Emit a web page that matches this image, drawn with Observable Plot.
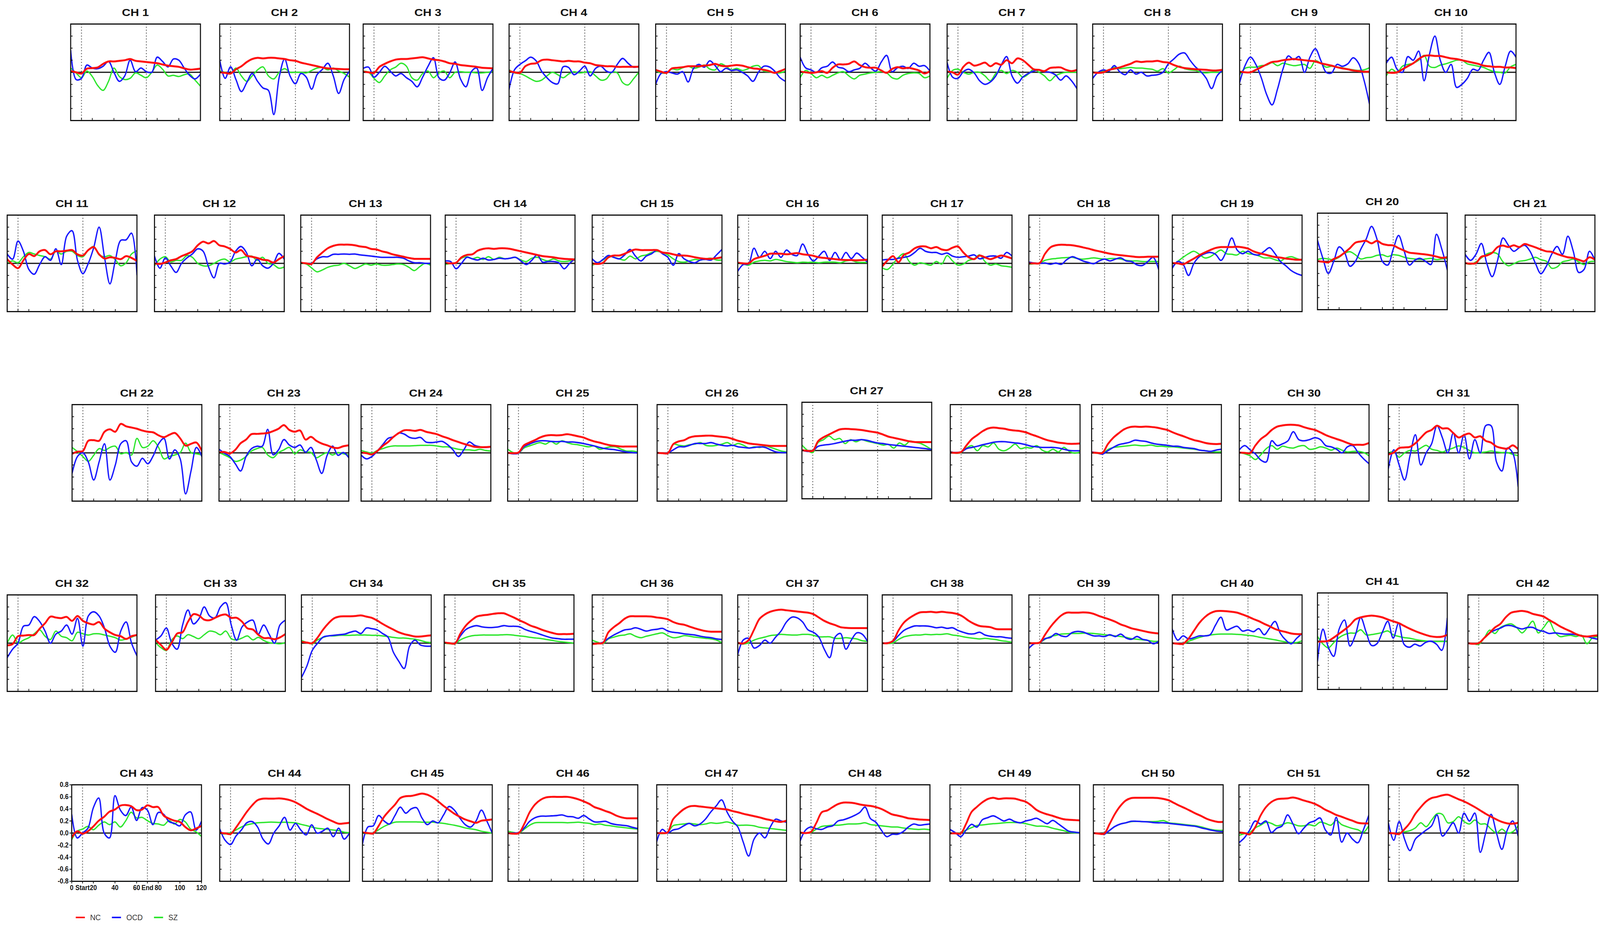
<!DOCTYPE html>
<html>
<head>
<meta charset="utf-8">
<script src="https://cdn.jsdelivr.net/npm/d3@7"></script>
<script src="https://cdn.jsdelivr.net/npm/@observablehq/plot@0.6"></script>
<style>
  html, body { margin: 0; padding: 0; background: #fff; overflow: hidden; }
  #outer { position: relative; overflow: hidden; background: #fff; }
  #chart { position: absolute; left: 0; top: 0; width: 4562px; height: 2375px; background: #fff; overflow: hidden;
           transform-origin: 0 0; font-family: "Liberation Sans", Arial, Helvetica, sans-serif; }
  .panel { position: absolute; }
  .panel svg { display: block; overflow: visible; }
  .title { position: absolute; text-align: center; font-weight: bold; font-size: 26px; line-height: 30px;
           color: #111; transform: scaleX(1.3); transform-origin: center; white-space: nowrap; }
  .legend { position: absolute; display: flex; align-items: center; font-size: 21px; color: #333; }
  .legend .sw { display: inline-block; width: 26px; height: 4px; margin-right: 15px; }
  .legend .lab { margin-right: 32px; }
</style>
</head>
<body>
<div id="outer"><div id="chart"></div></div>
<script>
// ---------------- data ----------------
const timePoints = [0,5,10,15,20,25,30,35,40,45,50,55,60,65,70,75,80,85,90,95,100,105,110,115,120];
const channelNames = ["CH 1","CH 2","CH 3","CH 4","CH 5","CH 6","CH 7","CH 8","CH 9","CH 10",
  "CH 11","CH 12","CH 13","CH 14","CH 15","CH 16","CH 17","CH 18","CH 19","CH 20","CH 21",
  "CH 22","CH 23","CH 24","CH 25","CH 26","CH 27","CH 28","CH 29","CH 30","CH 31",
  "CH 32","CH 33","CH 34","CH 35","CH 36","CH 37","CH 38","CH 39","CH 40","CH 41","CH 42",
  "CH 43","CH 44","CH 45","CH 46","CH 47","CH 48","CH 49","CH 50","CH 51","CH 52"];
const seriesNames = ["NC", "OCD", "SZ"];
const xTicks = [0,10,20,40,60,70,80,100,120];
const xTickLabels = ["0","Start","20","40","60","End","80","100","120"];
const yTicks = [-0.8,-0.6,-0.4,-0.2,0,0.2,0.4,0.6,0.8];
const markerTimes = [10, 70];

const ncValues = [
[0.02,0,-0.02,0.06,0.07,0.08,0.14,0.18,0.18,0.19,0.2,0.22,0.19,0.18,0.17,0.16,0.15,0.13,0.11,0.1,0.09,0.065,0.045,0.05,0.06],
[0,-0.01,-0.02,0.05,0.1,0.17,0.22,0.24,0.23,0.24,0.24,0.23,0.22,0.2,0.19,0.16,0.14,0.12,0.1,0.08,0.065,0.06,0.055,0.05,0.05],
[0.01,0,-0.01,0.09,0.14,0.18,0.21,0.22,0.22,0.23,0.24,0.25,0.23,0.21,0.2,0.18,0.15,0.14,0.12,0.11,0.1,0.09,0.075,0.07,0.065],
[0.02,0,-0.01,0.1,0.14,0.15,0.2,0.21,0.2,0.19,0.18,0.19,0.18,0.18,0.16,0.15,0.12,0.11,0.1,0.1,0.09,0.09,0.09,0.09,0.09],
[0.04,0.01,-0.01,0.065,0.075,0.085,0.1,0.1,0.1,0.11,0.12,0.14,0.11,0.1,0.11,0.12,0.11,0.085,0.065,0.055,0.04,0.02,-0.01,0.02,0.055],
[0.01,0,-0.01,0,0.02,-0.01,0.075,0.13,0.13,0.14,0.18,0.12,0.085,0.075,0.075,0.03,-0.01,0.055,0.085,0.065,0.075,0.055,0.03,-0.02,0.02],
[0.01,0,-0.04,0.09,0.16,0.11,0.13,0.16,0.1,0.15,0.125,0.2,0.15,0.23,0.2,0.125,0.05,0.04,0.02,0.07,0.08,0.08,0.04,0.02,0.04],
[0,-0.01,0,0.04,0.06,0.08,0.11,0.14,0.18,0.17,0.18,0.18,0.19,0.17,0.16,0.12,0.09,0.07,0.06,0.05,0.045,0.04,0.03,0.03,0.04],
[0.01,0,0,0.04,0.085,0.13,0.17,0.18,0.2,0.21,0.22,0.21,0.2,0.19,0.18,0.15,0.13,0.11,0.085,0.065,0.05,0.03,0.02,0.01,0.01],
[0,-0.01,0,0.05,0.1,0.15,0.22,0.27,0.28,0.27,0.27,0.25,0.23,0.22,0.2,0.18,0.16,0.14,0.11,0.1,0.09,0.09,0.08,0.08,0.07],
[0.07,-0.02,-0.08,0.05,0.155,0.12,0.2,0.22,0.15,0.2,0.2,0.21,0.22,0.15,0.13,0.22,0.27,0.15,0.08,0.1,0.09,0.07,0.12,0.09,0.04],
[0,-0.01,0.015,0.05,0.07,0.12,0.155,0.2,0.3,0.36,0.33,0.37,0.3,0.28,0.24,0.18,0.22,0.13,0.11,0.09,0.06,0.05,0.015,0.07,0.12],
[0.01,0,-0.01,0.1,0.18,0.25,0.29,0.31,0.31,0.31,0.3,0.28,0.27,0.24,0.23,0.2,0.18,0.15,0.13,0.11,0.09,0.075,0.075,0.075,0.075],
[0.01,0,0.01,0.1,0.14,0.15,0.21,0.24,0.25,0.24,0.25,0.25,0.24,0.22,0.2,0.18,0.16,0.14,0.12,0.11,0.1,0.085,0.075,0.07,0.065],
[0,-0.01,0.01,0.1,0.13,0.13,0.16,0.2,0.23,0.22,0.22,0.22,0.22,0.18,0.17,0.15,0.13,0.13,0.12,0.1,0.085,0.075,0.075,0.085,0.1],
[0.01,0,0,0.07,0.1,0.125,0.16,0.16,0.16,0.15,0.16,0.17,0.15,0.14,0.125,0.1,0.09,0.08,0.07,0.06,0.055,0.055,0.05,0.055,0.06],
[-0.05,0.05,0.12,0.02,0.14,0.18,0.25,0.28,0.28,0.25,0.27,0.23,0.22,0.26,0.28,0.18,0.1,0.07,0.13,0.1,0.07,0.1,0.13,0.11,0.08],
[0,0,0.005,0.16,0.265,0.3,0.31,0.305,0.3,0.285,0.265,0.245,0.22,0.2,0.18,0.16,0.145,0.135,0.125,0.115,0.105,0.105,0.11,0.11,0.11],
[0.005,0,-0.015,0.03,0.08,0.135,0.18,0.22,0.255,0.27,0.27,0.27,0.275,0.265,0.245,0.2,0.17,0.15,0.125,0.105,0.095,0.08,0.07,0.06,0.06],
[0.005,-0.005,-0.015,0.04,0.08,0.145,0.22,0.31,0.33,0.34,0.3,0.34,0.29,0.27,0.265,0.22,0.18,0.145,0.135,0.125,0.115,0.1,0.08,0.06,0.07],
[0.005,-0.005,0.005,0.11,0.13,0.175,0.27,0.295,0.27,0.3,0.27,0.32,0.295,0.265,0.23,0.2,0.19,0.155,0.125,0.1,0.09,0.06,0.035,0.1,0.06],
[-0.015,0.02,0.03,0.2,0.21,0.2,0.35,0.39,0.35,0.48,0.44,0.42,0.4,0.37,0.35,0.34,0.29,0.26,0.3,0.33,0.24,0.12,0.15,0.17,0.03],
[0.005,0.015,-0.01,0.05,0.16,0.22,0.31,0.315,0.32,0.33,0.36,0.4,0.46,0.38,0.35,0.37,0.22,0.265,0.2,0.155,0.125,0.09,0.08,0.11,0.125],
[0.005,-0.005,-0.025,0.03,0.115,0.18,0.265,0.33,0.375,0.375,0.365,0.38,0.35,0.33,0.31,0.275,0.245,0.21,0.18,0.15,0.125,0.1,0.095,0.095,0.1],
[0,-0.005,0.005,0.125,0.17,0.21,0.255,0.285,0.295,0.29,0.295,0.31,0.295,0.275,0.255,0.22,0.19,0.17,0.145,0.125,0.115,0.105,0.105,0.105,0.105],
[0,-0.005,-0.005,0.145,0.19,0.21,0.255,0.275,0.28,0.285,0.285,0.275,0.265,0.255,0.23,0.2,0.18,0.155,0.145,0.135,0.125,0.115,0.115,0.115,0.115],
[0.005,-0.005,-0.005,0.155,0.22,0.265,0.31,0.35,0.36,0.355,0.35,0.34,0.325,0.31,0.295,0.265,0.23,0.21,0.19,0.17,0.15,0.14,0.14,0.14,0.14],
[0.005,0,0.015,0.125,0.23,0.295,0.36,0.405,0.42,0.41,0.4,0.38,0.37,0.36,0.34,0.305,0.275,0.24,0.21,0.19,0.17,0.16,0.15,0.15,0.155],
[0.005,0,0,0.145,0.25,0.325,0.39,0.425,0.435,0.43,0.435,0.43,0.42,0.4,0.38,0.34,0.305,0.275,0.24,0.21,0.19,0.165,0.15,0.145,0.15],
[0.005,0,-0.005,0.125,0.23,0.295,0.38,0.435,0.455,0.465,0.465,0.455,0.425,0.4,0.38,0.34,0.295,0.26,0.23,0.2,0.165,0.135,0.135,0.135,0.165],
[-0.025,0.005,0.08,0.09,0.1,0.16,0.25,0.34,0.38,0.45,0.405,0.405,0.33,0.255,0.295,0.32,0.255,0.275,0.2,0.17,0.105,0.08,0.07,0.125,0.06],
[-0.035,-0.015,0.115,0.125,0.135,0.135,0.24,0.33,0.44,0.425,0.415,0.435,0.37,0.45,0.37,0.33,0.31,0.35,0.24,0.18,0.135,0.115,0.07,0.115,0.135],
[0.055,-0.03,-0.11,0.01,0.16,0.18,0.355,0.48,0.46,0.39,0.38,0.42,0.46,0.475,0.42,0.42,0.355,0.245,0.225,0.14,0.085,0.085,0.065,0.095,0.15],
[0.02,0.01,0,0.095,0.225,0.33,0.41,0.44,0.445,0.445,0.45,0.46,0.44,0.42,0.375,0.32,0.27,0.225,0.18,0.15,0.13,0.11,0.11,0.12,0.13],
[0.01,0,-0.005,0.16,0.29,0.375,0.44,0.46,0.47,0.485,0.495,0.495,0.46,0.42,0.375,0.335,0.29,0.26,0.225,0.195,0.17,0.15,0.15,0.15,0.155],
[-0.015,-0.005,0.005,0.18,0.265,0.33,0.405,0.445,0.445,0.445,0.445,0.44,0.425,0.415,0.395,0.35,0.32,0.305,0.275,0.245,0.22,0.2,0.19,0.19,0.19],
[0.005,-0.005,0.05,0.22,0.4,0.475,0.52,0.545,0.555,0.545,0.535,0.525,0.515,0.505,0.48,0.425,0.37,0.33,0.3,0.265,0.255,0.25,0.25,0.25,0.25],
[0,0,0.04,0.21,0.34,0.415,0.47,0.51,0.515,0.52,0.51,0.52,0.51,0.5,0.48,0.435,0.37,0.32,0.285,0.275,0.265,0.235,0.23,0.23,0.23],
[0,0,0.01,0.14,0.27,0.375,0.46,0.505,0.505,0.505,0.51,0.505,0.485,0.45,0.42,0.39,0.355,0.31,0.28,0.245,0.225,0.205,0.185,0.17,0.16],
[0,-0.01,-0.01,0.075,0.205,0.335,0.43,0.495,0.53,0.535,0.53,0.52,0.505,0.475,0.44,0.4,0.365,0.32,0.28,0.235,0.205,0.185,0.16,0.15,0.15],
[-0.005,-0.005,0.005,0.06,0.125,0.19,0.265,0.36,0.395,0.415,0.425,0.415,0.395,0.36,0.33,0.3,0.255,0.21,0.17,0.135,0.105,0.08,0.07,0.075,0.105],
[0,-0.01,0,0.085,0.17,0.26,0.32,0.43,0.505,0.525,0.535,0.52,0.485,0.465,0.44,0.385,0.335,0.28,0.235,0.195,0.15,0.12,0.11,0.12,0.13],
[-0.075,0.03,-0.01,0.03,0.11,0.205,0.27,0.355,0.39,0.455,0.465,0.445,0.38,0.39,0.46,0.43,0.43,0.29,0.24,0.205,0.185,0.1,0.045,0.075,0.12],
[0.005,-0.005,-0.015,0.09,0.22,0.35,0.46,0.545,0.57,0.57,0.57,0.575,0.565,0.545,0.51,0.46,0.405,0.36,0.32,0.275,0.23,0.19,0.155,0.16,0.17],
[0.01,0,-0.005,0.12,0.27,0.375,0.47,0.58,0.61,0.615,0.635,0.655,0.635,0.59,0.525,0.45,0.385,0.32,0.27,0.225,0.195,0.17,0.205,0.215,0.225],
[0,-0.01,0,0.15,0.345,0.475,0.55,0.59,0.6,0.6,0.6,0.6,0.585,0.56,0.525,0.485,0.43,0.4,0.365,0.335,0.29,0.26,0.245,0.245,0.245],
[0,0,0.01,0.225,0.32,0.395,0.44,0.45,0.44,0.43,0.42,0.41,0.4,0.39,0.365,0.345,0.32,0.3,0.28,0.26,0.235,0.215,0.195,0.185,0.205],
[0.01,0,0.02,0.17,0.345,0.375,0.43,0.48,0.505,0.505,0.495,0.475,0.46,0.45,0.43,0.4,0.355,0.31,0.29,0.27,0.245,0.235,0.225,0.22,0.215],
[-0.005,-0.005,-0.005,0.155,0.35,0.435,0.51,0.565,0.585,0.565,0.575,0.575,0.57,0.545,0.52,0.46,0.385,0.34,0.31,0.285,0.255,0.23,0.22,0.215,0.21],
[0,-0.01,-0.01,0.15,0.32,0.45,0.54,0.58,0.585,0.585,0.585,0.585,0.58,0.565,0.54,0.495,0.45,0.41,0.365,0.32,0.28,0.235,0.205,0.185,0.185],
[0.01,0,-0.02,0.095,0.29,0.43,0.515,0.56,0.57,0.575,0.59,0.57,0.54,0.515,0.485,0.44,0.385,0.345,0.3,0.27,0.235,0.205,0.17,0.16,0.16],
[0,-0.005,-0.015,0.065,0.17,0.32,0.43,0.525,0.58,0.6,0.625,0.635,0.6,0.56,0.525,0.48,0.43,0.375,0.32,0.27,0.225,0.185,0.16,0.155,0.17]
];

const ocdValues = [
[0.36,-0.12,-0.1,0.12,0.07,0.06,0.1,0.18,0.0,-0.15,-0.06,0.2,0.01,0.07,0.01,0.0,0.25,0.18,0.09,0.22,0.2,0.07,-0.05,-0.11,-0.03],
[0.2,-0.1,0.09,-0.12,-0.32,-0.17,-0.02,-0.15,-0.26,-0.3,-0.7,-0.08,0.22,-0.06,-0.19,-0.02,-0.08,-0.28,-0.04,0.05,0.15,-0.06,-0.35,-0.12,0.02],
[0.065,0.085,-0.08,0.0,0.1,0.02,-0.06,-0.02,-0.09,-0.15,-0.24,-0.08,0.1,0.24,-0.09,-0.13,-0.01,0.17,-0.11,-0.24,0.01,0.07,-0.3,-0.09,0.065],
[-0.28,0.04,0.13,0.19,0.25,0.19,0.02,-0.09,-0.17,-0.19,0.09,0.08,-0.04,0.02,0.1,-0.06,0.065,0.1,0.02,0,0.13,0.23,0.15,0.085,0.1],
[-0.2,-0.02,0.01,-0.01,-0.03,0.01,-0.16,0.065,0.13,0.085,0.19,0.11,0.01,0.065,0.03,0.04,0.0,-0.06,-0.15,0.0,0.1,0.09,0.02,-0.09,-0.15],
[0.25,0.075,0.04,0,0.075,0.1,0.17,0.085,0.065,0.01,0.04,0.065,0.15,0.075,0.02,0.17,0.28,0.01,0.075,0.1,0.065,0.15,0.1,0.11,0.02],
[0.16,-0.08,-0.1,0.01,0.05,-0.01,-0.14,-0.2,-0.16,-0.06,0.12,0.26,-0.06,-0.18,-0.08,-0.02,0.02,0.04,0.01,0,-0.04,-0.13,-0.06,-0.14,-0.27],
[-0.1,0,0.04,0.02,0.11,0.01,-0.04,0.04,-0.03,0,-0.06,-0.05,-0.04,0,0.14,0.22,0.3,0.32,0.2,0.09,0.01,-0.1,-0.27,-0.06,0.03],
[-0.17,0.11,0.25,0.13,-0.09,-0.37,-0.54,-0.28,0.05,0.27,0.21,0.26,0.0,0.25,0.39,0.2,0.0,-0.01,0.13,0.1,0.14,0.24,0.15,-0.13,-0.52],
[0.15,0.25,0.05,0.0,0.26,0.2,0.35,-0.14,0.3,0.6,0.2,0.0,0.13,-0.25,-0.2,-0.1,0.05,0.03,0.2,0.33,0.0,-0.2,0.1,0.35,0.25],
[0.155,0.07,0.37,0.2,-0.1,-0.18,-0.02,0.11,0.05,0.24,-0.02,0.45,0.54,0.05,-0.17,0.0,0.26,0.6,0.1,-0.34,0.05,0.38,0.39,0.5,-0.19],
[0.12,-0.08,0.09,-0.04,-0.15,0.0,0.09,0.155,0.24,0.2,-0.06,-0.24,0.0,-0.01,0.025,0.2,0.28,0.18,-0.04,0.07,-0.04,-0.08,0.0,0.165,0.07],
[0.01,0,0,0.075,0.11,0.11,0.15,0.15,0.155,0.15,0.155,0.14,0.13,0.12,0.11,0.1,0.1,0.1,0.1,0.085,0.04,0.01,0.01,0,0],
[0.04,0.03,-0.09,0.0,0.1,0.075,0.055,0.085,0.055,0.065,0.085,0.075,0.085,0.1,0.04,-0.02,0.05,0.14,0.02,0.03,0.03,0.01,-0.09,0,0.075],
[0.075,0.01,0.065,0.13,0.1,0.075,0.14,0.23,0.12,0.04,0.12,0.16,0.22,0.16,0.1,-0.03,0.16,0.075,0.03,0.01,0.055,0.065,0.055,0.14,0.23],
[-0.13,-0.02,-0.01,0.25,0.1,0.2,0.08,0.2,0.1,0.22,0.15,0.13,0.32,0.15,0.04,0.12,0.2,0.05,0.18,0.06,0.18,0.08,0.17,0.1,0.02],
[0.055,0.065,0.065,0.085,0.1,0.12,0.18,0.25,0.2,0.18,0.18,0.15,0.17,0.12,0.1,0.11,0.12,0.14,0.075,0.1,0.12,0.12,0.085,0.18,0.12],
[0.02,0.005,0,0.005,-0.015,0.005,-0.015,0.06,0.11,0.08,0.04,0.015,-0.005,0.04,0.07,0.04,0.07,0.09,0.04,0.03,-0.025,-0.035,0.03,0.1,-0.1],
[-0.08,0.03,-0.015,-0.2,0.0,0.11,0.16,0.18,0.15,0.05,0.2,0.42,0.22,0.16,0.2,0.15,0.14,0.2,0.26,0.16,0.03,-0.04,-0.12,-0.17,-0.2],
[0.35,0.05,-0.2,0.0,0.24,0.15,-0.08,0.0,0.2,0.37,0.58,0.37,0.0,-0.06,0.2,0.43,0.18,-0.06,0.02,0.05,0.0,-0.05,0.45,0.2,-0.14],
[0.15,0.05,0.15,0.33,0.0,-0.22,0.05,0.42,0.3,0.2,0.26,0.3,0.2,0.0,-0.17,-0.05,0.15,0.28,0.15,0.45,0.2,-0.15,-0.1,0.2,0.05],
[-0.34,-0.06,0.0,-0.15,-0.45,-0.15,0.15,-0.45,-0.2,0.15,0.2,-0.15,-0.22,-0.09,-0.18,-0.05,0.15,0.24,-0.1,0.05,-0.1,-0.68,-0.3,0.09,-0.06],
[0.06,-0.005,-0.06,-0.18,-0.3,-0.06,0.07,0.11,0.11,0.39,-0.03,0.05,0.22,0.13,0.09,0.13,0.01,0.09,-0.12,-0.34,-0.04,0.11,-0.04,0.005,-0.08],
[-0.035,-0.1,-0.06,0.03,0.135,0.24,0.265,0.33,0.31,0.255,0.24,0.255,0.18,0.17,0.18,0.19,0.135,0.05,-0.06,0.05,0.18,0.125,0.1,0.09,0.1],
[0,-0.015,-0.005,0.1,0.145,0.18,0.2,0.2,0.19,0.185,0.19,0.18,0.18,0.17,0.155,0.135,0.115,0.09,0.07,0.06,0.05,0.03,0.015,0.005,0],
[0,-0.005,0,0.05,0.1,0.1,0.125,0.155,0.155,0.155,0.17,0.145,0.125,0.115,0.125,0.1,0.09,0.08,0.09,0.1,0.09,0.05,0.015,0.005,0.005],
[0.005,-0.015,-0.005,0.07,0.09,0.1,0.115,0.135,0.155,0.17,0.17,0.18,0.17,0.145,0.125,0.115,0.1,0.09,0.08,0.07,0.06,0.05,0.04,0.03,0.015],
[0.015,0.005,0.015,0.07,0.09,0.11,0.135,0.155,0.175,0.185,0.185,0.175,0.165,0.155,0.135,0.11,0.1,0.09,0.09,0.09,0.08,0.06,0.04,0.035,0.035],
[0.015,0,-0.02,0.035,0.09,0.135,0.155,0.175,0.21,0.2,0.19,0.165,0.145,0.135,0.125,0.11,0.11,0.09,0.08,0.07,0.045,0.035,0.025,0.045,0.06],
[0.05,0.12,0.05,-0.02,-0.12,-0.15,0.2,0.12,0.15,0.2,0.35,0.22,0.2,0.22,0.25,0.22,0.12,0.1,0.06,0.0,0.1,0.12,0.0,-0.1,-0.18],
[-0.26,0.05,-0.2,-0.45,-0.05,0.3,-0.2,0.0,0.15,0.45,0.25,0.0,0.33,0.0,0.3,-0.1,0.22,0.0,0.45,0.45,-0.15,-0.3,0.08,0.0,-0.56],
[-0.24,-0.1,0.0,0.28,0.3,0.44,0.36,0.2,0.0,0.15,0.2,0.3,0.15,0.41,-0.05,0.45,0.52,0.45,0.25,-0.05,-0.15,0.2,0.35,0.0,-0.21],
[0.05,0.12,0.25,0.0,-0.1,0.3,0.55,0.32,0.4,0.6,0.45,0.42,0.6,0.67,0.3,0.05,0.27,0.35,0.38,0.15,0.3,0.15,0.0,0.3,0.38],
[-0.57,-0.38,-0.12,0.0,0.1,0.12,0.13,0.14,0.15,0.18,0.2,0.16,0.25,0.24,0.22,0.16,0.1,-0.15,-0.3,-0.42,-0.05,0.05,-0.03,-0.05,-0.05],
[0.01,0,-0.005,0.12,0.225,0.27,0.29,0.27,0.26,0.26,0.27,0.29,0.28,0.28,0.27,0.225,0.195,0.17,0.14,0.11,0.085,0.075,0.065,0.065,0.065],
[-0.015,-0.005,0.015,0.08,0.135,0.18,0.22,0.23,0.255,0.23,0.2,0.22,0.23,0.245,0.2,0.18,0.17,0.155,0.145,0.135,0.115,0.1,0.09,0.07,0.06],
[-0.19,0.05,0.08,-0.08,-0.04,0.05,0.0,0.1,0.2,0.35,0.43,0.42,0.35,0.22,0.18,0.1,-0.1,-0.24,0.1,0.16,-0.1,0.05,0.17,0.15,0.03],
[0,0.005,0.03,0.125,0.21,0.255,0.285,0.285,0.285,0.275,0.255,0.265,0.245,0.255,0.21,0.18,0.155,0.155,0.18,0.135,0.115,0.105,0.105,0.09,0.08],
[-0.085,-0.01,0.01,0.075,0.095,0.16,0.12,0.11,0.175,0.195,0.185,0.15,0.12,0.12,0.11,0.14,0.11,0.15,0.085,0.065,0.11,0.065,0.045,-0.01,0.03],
[0.23,0.05,0.12,0.07,0.09,0.12,0.12,0.14,0.3,0.43,0.22,0.25,0.28,0.2,0.22,0.19,0.24,0.14,0.25,0.36,0.16,0.05,-0.01,0.08,0.16],
[-0.33,0.2,-0.1,-0.25,0.2,0.35,-0.08,0.1,0.39,0.15,-0.07,-0.04,0.15,0.33,0.05,0.3,-0.05,-0.1,-0.05,-0.08,-0.02,0.0,-0.05,-0.15,0.38],
[0,-0.01,0,0.085,0.17,0.215,0.25,0.29,0.29,0.26,0.235,0.26,0.26,0.215,0.195,0.16,0.17,0.16,0.15,0.15,0.14,0.12,0.11,0.085,0.065],
[0.31,-0.08,0.0,0.08,0.42,0.58,0.0,-0.08,0.62,0.38,0.29,0.43,0.21,0.42,0.38,0.14,0.34,0.31,0.19,0.16,0.12,0.3,0.35,0.05,0.195],
[0.07,-0.12,-0.19,-0.05,0.05,0.17,0.19,0.1,-0.1,-0.18,0.0,0.12,0.26,0.05,0.16,0.05,-0.03,0.135,0.0,0.03,0.08,-0.06,0.08,-0.1,0.0],
[-0.18,0.1,0.12,0.29,0.2,0.15,0.29,0.43,0.33,0.4,0.42,0.25,0.14,0.2,0.17,0.3,0.44,0.38,0.25,0.14,0.1,0.2,0.38,0.2,0.0],
[0,0,0.01,0.085,0.195,0.255,0.28,0.28,0.285,0.29,0.3,0.275,0.27,0.245,0.29,0.235,0.185,0.185,0.195,0.16,0.14,0.13,0.12,0.095,0.075],
[-0.14,0.06,0.0,0.05,0.07,0.12,0.16,0.12,0.15,0.23,0.35,0.45,0.55,0.35,0.2,0.1,-0.15,-0.38,-0.1,0.0,-0.08,0.1,0.23,0.2,0.18],
[-0.13,0.05,0.1,0.07,0.06,0.1,0.12,0.2,0.22,0.25,0.29,0.34,0.43,0.24,0.18,0.05,-0.06,-0.02,-0.02,0.02,0.1,0.15,0.13,0.14,0.15],
[0.06,0.005,-0.06,0.05,0.145,0.1,0.22,0.255,0.285,0.245,0.2,0.23,0.19,0.17,0.2,0.22,0.245,0.2,0.155,0.21,0.155,0.09,0.03,0.015,0.005],
[0,-0.01,-0.02,0.045,0.11,0.15,0.17,0.195,0.195,0.19,0.185,0.175,0.17,0.17,0.16,0.15,0.14,0.13,0.12,0.11,0.085,0.065,0.045,0.03,0.025],
[-0.16,-0.08,0.05,0.2,0.15,0.2,0.01,0.08,0.12,0.3,0.15,-0.01,0.08,0.17,0.2,0.25,0.05,-0.03,0.26,-0.15,0.0,-0.1,-0.16,0.05,0.29],
[0.17,-0.12,0.19,-0.1,-0.29,-0.1,-0.02,0.05,0.12,0.3,-0.05,0.05,0.17,0.0,0.33,0.2,0.33,-0.32,0.0,0.31,0.0,-0.27,0.05,0.2,-0.05]
];

const szValues = [
[0.07,-0.01,-0.09,0.02,-0.07,-0.22,-0.3,-0.15,0.07,-0.07,-0.12,-0.1,-0.01,-0.05,-0.09,0.0,0.12,0.05,-0.06,-0.05,-0.07,-0.04,-0.03,-0.13,-0.23],
[0.02,0,-0.02,0.07,-0.06,-0.15,-0.06,0.04,0.09,-0.06,-0.11,0,0.06,0,0,0,-0.01,0.03,0.07,0.08,0.04,0.07,0.02,-0.02,-0.08],
[0.02,0,-0.1,-0.17,-0.06,0.04,0.085,0.15,0.1,-0.09,-0.13,-0.02,0.02,-0.09,-0.01,0.02,-0.09,0,0.01,0,0,-0.01,-0.01,0,0.01],
[0.04,-0.01,-0.02,-0.06,-0.11,-0.15,-0.13,-0.06,0,-0.04,-0.09,-0.03,0.01,-0.01,0,0.01,-0.06,-0.13,-0.11,0,-0.01,-0.17,-0.21,-0.11,0],
[0.03,-0.01,-0.01,0.055,0.04,0.075,0.1,0.065,0.085,0.12,0.055,0.04,0.14,0.1,0.04,0.065,0.03,0.055,0.1,0.11,0.02,0.01,-0.01,-0.01,0.02],
[-0.09,0.03,-0.02,-0.09,-0.05,-0.09,-0.05,-0.01,0.01,-0.06,-0.11,-0.05,-0.03,-0.01,0,0.01,-0.01,-0.09,-0.11,-0.05,-0.02,-0.01,-0.02,-0.09,-0.06],
[-0.1,0.03,0.05,0,-0.03,0,0,-0.06,-0.14,-0.02,0.03,-0.02,0.03,0,-0.08,-0.03,0.05,0,-0.06,-0.14,-0.06,-0.02,0,0,0],
[0,0,0.02,0.04,0.08,0.06,0.07,0.08,0.07,0.07,0.06,0.05,0.02,0.06,-0.01,0.04,0.1,0.06,0.04,0.03,0,-0.01,0,0,0],
[-0.04,0.065,0.085,0.085,0.11,0.12,0.16,0.11,0.15,0.13,0.11,0.12,0.13,0.065,0.19,0.15,0.085,0.1,0.085,0.075,0.055,0.04,0.03,0.04,0.075],
[-0.06,0.05,0,0.1,0.13,0.15,0.2,0.28,0.1,0.08,0.12,0.14,0.17,0.2,0.2,0.14,0.12,0.1,0.08,0.04,0.01,0,-0.01,0.09,0.13],
[0,0.04,0.01,0.11,0.18,0.155,0.13,0.11,0.07,0.2,0.155,0.2,0.2,0.13,0.11,0.22,0.28,0.14,0.11,0.13,0.06,-0.04,0.01,0.155,0.21],
[-0.04,0.07,0.11,0.025,0.05,0.05,0.13,0.1,0.0,-0.04,-0.04,0.0,0.05,0.07,0.025,0.07,0.09,0.11,0.12,0.05,0.1,0.0,-0.02,-0.08,-0.06],
[0,-0.01,-0.075,-0.14,-0.11,-0.065,-0.04,-0.03,0,-0.04,-0.085,-0.05,-0.01,-0.03,-0.01,-0.03,-0.03,-0.02,-0.01,-0.02,-0.065,-0.12,-0.055,0,-0.03],
[-0.02,0,0.01,0.085,0.11,0.075,0.1,0.065,0.11,0.065,0.1,0.075,0.085,0.1,0.055,0.03,0.085,0.1,0.065,0.04,0.075,0.04,0.03,0.04,0.055],
[-0.03,0.01,0.055,0.12,0.1,0.075,0.055,0.12,0.075,0.12,0.14,0.18,0.2,0.18,0.14,0.075,0.03,0.02,0.04,0.065,0.055,0.075,0.085,0.055,0.055],
[0,-0.01,-0.03,0.02,0.04,0.05,0.04,0.065,0.05,0.03,0.02,0.01,0.02,0.015,0.02,0.01,0.02,0.02,0.02,0.01,0.04,0.05,0.02,0.015,0.015],
[-0.075,-0.1,-0.01,0.1,0.16,0.03,-0.03,0.01,-0.01,-0.03,0.03,-0.01,0.13,0.04,-0.03,-0.01,0.05,0.075,0.14,0.03,-0.03,-0.01,-0.04,-0.05,-0.065],
[-0.015,-0.005,0.005,0.05,0.07,0.08,0.09,0.095,0.1,0.08,0.07,0.08,0.09,0.08,0.07,0.08,0.08,0.07,0.05,0.04,0.04,0.03,0.03,0.03,0.03],
[-0.06,0.03,0.1,0.16,0.2,0.15,0.09,0.11,0.17,0.22,0.16,0.15,0.14,0.2,0.16,0.15,0.125,0.09,0.09,0.06,0.04,0.09,0.11,0.08,0.05],
[0.03,0.05,0.04,0.03,0.07,0.135,0.16,0.11,0.04,0.06,0.07,0.1,0.11,0.08,0.11,0.1,0.07,0.05,0.04,0.03,0.04,0.05,0.03,0.04,0.05],
[0.005,-0.015,0.025,0.09,0.155,0.18,0.155,0.025,-0.04,-0.005,0.035,0.045,0.07,0.1,0.06,0.035,-0.08,-0.06,0.025,0.045,0.07,0.025,-0.02,0.025,0.035],
[0.09,0.02,-0.06,-0.14,-0.04,0.07,0.04,0.09,0.11,-0.015,0.005,-0.035,0.24,0.09,0.11,0.2,0.09,-0.1,-0.06,-0.035,0.005,0.16,0.005,-0.015,-0.035],
[0.005,-0.035,-0.08,-0.14,-0.12,-0.06,0.03,0.07,0.09,-0.035,-0.08,0.005,0.05,0.09,-0.015,0.05,0.015,0.005,-0.08,-0.035,0.005,-0.035,0.005,-0.015,-0.035],
[0.04,0.015,-0.005,0.04,0.07,0.1,0.115,0.115,0.115,0.115,0.12,0.125,0.125,0.125,0.115,0.1,0.1,0.08,0.06,0.05,0.05,0.04,0.06,0.04,0.03],
[0.06,0.005,-0.005,0.08,0.115,0.145,0.17,0.145,0.19,0.145,0.2,0.17,0.145,0.135,0.115,0.1,0.115,0.06,0.08,0.1,0.1,0.06,0.03,0.03,0.015],
[0,-0.005,-0.005,0.145,0.125,0.115,0.135,0.145,0.17,0.125,0.115,0.125,0.145,0.17,0.125,0.155,0.125,0.08,0.1,0.09,0.115,0.09,0.06,0.03,0.015],
[0.09,0.005,-0.035,0.135,0.18,0.24,0.18,0.2,0.115,0.18,0.145,0.18,0.155,0.135,0.115,0.09,0.1,0.04,0.125,0.09,0.155,0.135,0.115,0.07,0.015],
[0.025,-0.005,0.005,0.08,0.12,0.035,0.12,0.1,0.165,0.06,0.035,0.08,0.145,0.07,0.09,0.08,0.12,0.045,0.015,0.06,0.015,0.09,0.025,-0.005,0.015],
[0.005,-0.005,-0.015,0.055,0.09,0.1,0.11,0.12,0.13,0.12,0.12,0.13,0.11,0.11,0.1,0.1,0.09,0.08,0.07,0.06,0.045,0.035,0.025,0.015,0.015],
[0.005,-0.015,-0.05,-0.11,-0.03,0.07,0.12,0.06,0.11,0.09,0.08,0.11,0.12,0.06,0.07,0.1,0.08,0.045,0.08,0.045,0.015,0.025,0.025,0.005,-0.05],
[0,0.015,-0.07,0,0.04,0.03,0.08,0.125,0.06,0.04,0.015,0.05,0.08,0.115,0.09,0.04,0,0.005,0.015,0.03,0.015,0.005,0.005,-0.025,-0.045],
[0,0.135,0.005,0.05,0.09,0.155,0.22,0.115,0.06,0.2,0.115,0.09,0.04,0.18,0.155,0.135,0.155,0.155,0.135,0.115,0.09,0.05,0.07,0.1,0.135],
[0.01,-0.075,-0.12,0.055,0.12,0.075,0.14,0.11,0.075,0.14,0.2,0.185,0.14,0.2,0.075,0.055,0.085,0.12,0.055,0.095,0.045,0.01,0,-0.01,0.01],
[0.045,0.01,-0.01,0.055,0.095,0.12,0.12,0.13,0.13,0.13,0.135,0.135,0.135,0.13,0.13,0.12,0.11,0.095,0.085,0.085,0.075,0.065,0.045,0.02,0.01],
[0,-0.01,-0.01,0.055,0.095,0.12,0.13,0.135,0.135,0.135,0.135,0.14,0.14,0.13,0.12,0.11,0.095,0.085,0.075,0.06,0.045,0.03,0.02,0.01,0],
[0.05,0.015,-0.005,0.07,0.1,0.125,0.135,0.155,0.115,0.09,0.115,0.135,0.155,0.17,0.125,0.09,0.1,0.125,0.115,0.1,0.09,0.08,0.07,0.05,0.005],
[-0.005,-0.015,0.005,0.05,0.08,0.1,0.125,0.135,0.145,0.14,0.135,0.135,0.145,0.145,0.13,0.105,0.105,0.105,0.08,0.08,0.09,0.08,0.07,0.04,0.03],
[0,-0.005,0.005,0.06,0.105,0.125,0.135,0.135,0.145,0.14,0.145,0.145,0.155,0.135,0.125,0.105,0.09,0.08,0.07,0.08,0.07,0.06,0.04,0.03,0.015],
[0.01,0,0.01,0.065,0.11,0.13,0.15,0.155,0.16,0.16,0.165,0.165,0.16,0.15,0.14,0.13,0.12,0.11,0.095,0.075,0.065,0.055,0.045,0.03,0.03],
[0,-0.01,-0.01,0.03,0.065,0.095,0.12,0.135,0.145,0.15,0.15,0.15,0.145,0.14,0.13,0.12,0.1,0.085,0.07,0.055,0.035,0.02,0.01,0.01,0.04],
[0.08,-0.045,-0.11,-0.025,0.06,0.11,0.135,0.135,0.19,0.105,0.11,0.125,0.145,0.17,0.105,0.08,0.06,0.05,0.03,0.015,0.005,-0.005,-0.005,-0.005,-0.005],
[0,-0.01,-0.02,0.085,0.215,0.16,0.26,0.3,0.32,0.26,0.17,0.26,0.365,0.17,0.26,0.365,0.195,0.11,0.12,0.13,0.11,0.13,-0.01,0.085,0.11],
[-0.11,0.03,0.065,0.11,0.055,0.13,0.185,0.14,0.185,0.1,0.205,0.345,0.25,0.26,0.205,0.16,0.15,0.13,0.205,0.15,0.225,0.185,0.065,0.02,-0.055],
[-0.005,-0.015,0.005,0.05,0.1,0.135,0.155,0.17,0.175,0.18,0.18,0.175,0.18,0.175,0.17,0.145,0.125,0.1,0.08,0.07,0.06,0.05,0.04,0.015,0.005],
[0,-0.01,0,0.055,0.11,0.15,0.18,0.185,0.185,0.185,0.185,0.18,0.18,0.18,0.17,0.16,0.145,0.13,0.11,0.085,0.07,0.055,0.03,0.015,0],
[0.03,0.01,0,0.065,0.13,0.17,0.175,0.175,0.175,0.175,0.175,0.17,0.175,0.18,0.17,0.16,0.14,0.15,0.13,0.12,0.105,0.095,0.085,0.075,0.065],
[0,-0.01,0.01,0.12,0.14,0.15,0.16,0.15,0.14,0.15,0.17,0.16,0.17,0.185,0.16,0.13,0.13,0.13,0.12,0.095,0.085,0.075,0.065,0.055,0.045],
[0.005,0,0.01,0.065,0.11,0.12,0.13,0.13,0.14,0.15,0.15,0.155,0.17,0.14,0.13,0.12,0.11,0.1,0.1,0.085,0.075,0.065,0.06,0.065,0.055],
[0,-0.005,0.005,0.05,0.09,0.125,0.135,0.145,0.155,0.16,0.17,0.175,0.175,0.17,0.155,0.135,0.115,0.115,0.105,0.08,0.06,0.04,0.015,0.005,0.005],
[0,-0.01,-0.02,0.045,0.11,0.15,0.17,0.19,0.195,0.19,0.19,0.19,0.195,0.205,0.17,0.16,0.15,0.14,0.13,0.12,0.1,0.075,0.055,0.045,0.045],
[-0.04,-0.01,0.01,0.085,0.13,0.18,0.16,0.12,0.14,0.17,0.15,0.12,0.12,0.14,0.12,0.18,0.16,0.13,0.21,0.14,0.105,0.075,0.055,0.01,0.12],
[0,-0.01,-0.01,0.02,0.04,0.085,0.17,0.105,0.215,0.32,0.31,0.17,0.19,0.27,0.19,0.15,0.215,0.15,0.15,0.065,0,0.065,0,0.02,0.12]
];

// ---------------- layout (pixel positions of each panel's plotting box, in a 4562x2375 design) ----------------
const designWidth = 4562, designHeight = 2375;
const boxLeft = [201,626,1035,1451,1869,2281,2700,3115,3534,3952,
  20,440,857,1269,1688,2103,2515,2933,3342,3756,4177,
  205,624,1029,1447,1873,2286,2709,3112,3533,3958,
  20,443,859,1266,1688,2103,2515,2933,3342,3756,4185,
  204,626,1033,1448,1872,2281,2708,3117,3532,3958];
const boxTop = [61,61,61,61,61,61,61,61,61,61,
  550,550,550,550,550,550,550,550,550,545,550,
  1035,1035,1035,1035,1035,1029,1035,1035,1035,1035,
  1522,1522,1522,1522,1522,1522,1522,1522,1522,1517,1522,
  2008,2008,2008,2008,2008,2008,2008,2008,2008,2008];
const boxWidth = 370, boxHeight = 247;
const labeledPanel = 42; // CH 43 carries the tick labels
const seriesColors = {NC: "#ff1010", OCD: "#1a1aff", SZ: "#2ee62e"};
const seriesWidths = {NC: 5, OCD: 3.8, SZ: 3.5};
const legendLeft = 216, legendTop = 2336;

// ---------------- drawing ----------------
const outer = document.getElementById("outer");
const root = document.getElementById("chart");
const valuesBySeries = {NC: ncValues, OCD: ocdValues, SZ: szValues};

channelNames.forEach((name, i) => {
  for (const s of seriesNames) {
    if (valuesBySeries[s][i].length !== timePoints.length) throw new Error(`length mismatch ${s} ${name}: ${valuesBySeries[s][i].length}`);
  }
  const labeled = i === labeledPanel;
  const mL = labeled ? 52 : 3, mB = labeled ? 42 : 3, mT = 3, mR = 3;

  const lineMarks = ["SZ", "OCD", "NC"].map(s =>
    Plot.line(timePoints, {
      x: timePoints, y: valuesBySeries[s][i],
      stroke: seriesColors[s], strokeWidth: seriesWidths[s],
      curve: "catmull-rom", clip: true, strokeLinejoin: "round"
    })
  );

  const axisMarks = labeled ? [
    Plot.axisX({ticks: xTicks, tickSize: 6, tickPadding: 4, strokeWidth: 2,
      tickFormat: d => xTickLabels[xTicks.indexOf(d)], label: null}),
    Plot.axisY({ticks: yTicks, tickSize: 6, tickPadding: 3, strokeWidth: 2,
      tickFormat: d => d.toFixed(1), label: null})
  ] : [
    Plot.axisX({ticks: xTicks, tickSize: -6, strokeWidth: 2, tickFormat: () => "", label: null}),
    Plot.axisY({ticks: yTicks, tickSize: -6, strokeWidth: 2, tickFormat: () => "", label: null})
  ];

  const chart = Plot.plot({
    width: boxWidth + mL + mR,
    height: boxHeight + mT + mB,
    marginLeft: mL, marginRight: mR, marginTop: mT, marginBottom: mB,
    x: {domain: [0, 120]},
    y: {domain: [-0.8, 0.8]},
    style: {background: "transparent", color: "#111", fontFamily: "'Liberation Sans', Arial, sans-serif",
            fontSize: "18px", fontWeight: "bold"},
    marks: [
      Plot.ruleX(markerTimes, {stroke: "#555", strokeWidth: 2.5, strokeDasharray: "2.5,5"}),
      Plot.ruleY([0], {stroke: "#111", strokeWidth: 3}),
      ...lineMarks,
      ...axisMarks,
      Plot.frame({stroke: "#111", strokeWidth: 3})
    ]
  });

  const wrap = document.createElement("div");
  wrap.className = "panel";
  wrap.style.left = (boxLeft[i] - mL) + "px";
  wrap.style.top = (boxTop[i] - mT) + "px";
  wrap.appendChild(chart);
  root.appendChild(wrap);

  const title = document.createElement("div");
  title.className = "title";
  title.textContent = name;
  title.style.left = boxLeft[i] + "px";
  title.style.width = boxWidth + "px";
  title.style.top = (boxTop[i] - 44) + "px";
  root.appendChild(title);
});

// legend
const legend = document.createElement("div");
legend.className = "legend";
legend.style.left = legendLeft + "px";
legend.style.top = legendTop + "px";
seriesNames.forEach(s => {
  const sw = document.createElement("span");
  sw.className = "sw";
  sw.style.background = seriesColors[s];
  const lab = document.createElement("span");
  lab.className = "lab";
  lab.textContent = s;
  legend.appendChild(sw);
  legend.appendChild(lab);
});
root.appendChild(legend);

// fit the 4562x2375 design onto the whole viewport the window actually provides
function fit() {
  const vw = document.documentElement.clientWidth || window.innerWidth || designWidth;
  const vh = document.documentElement.clientHeight || window.innerHeight || designHeight;
  const sx = vw / designWidth, sy = vh / designHeight;
  root.style.transform = `scale(${sx}, ${sy})`;
  outer.style.width = vw + "px";
  outer.style.height = vh + "px";
}
fit();
window.addEventListener("resize", fit);
</script>
</body>
</html>
